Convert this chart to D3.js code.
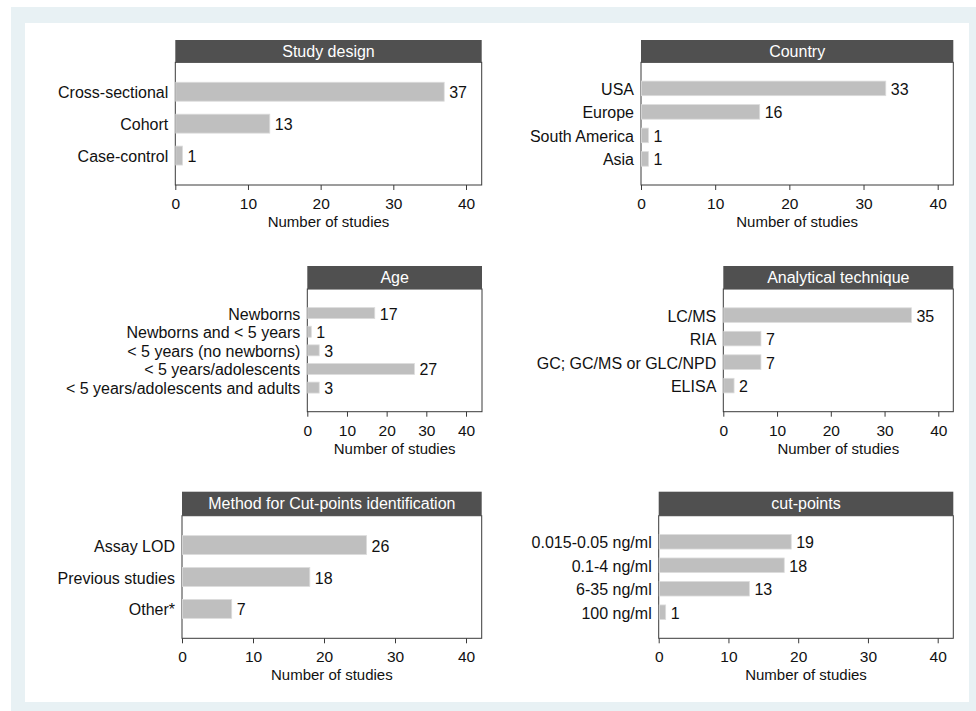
<!DOCTYPE html>
<html>
<head>
<meta charset="utf-8">
<script src="https://cdn.jsdelivr.net/npm/d3@7"></script>
<style>
  html, body { margin: 0; padding: 0; background: #ffffff; }
  svg { display: block; }
  text { font-family: "Liberation Sans", Arial, Helvetica, sans-serif; fill: #111; }
</style>
</head>
<body>
<svg id="chart" width="976" height="711"></svg>
<script>
// ---------------- DATA ----------------
const studyDesignCats = ["Cross-sectional", "Cohort", "Case-control"];
const studyDesignVals = [37, 13, 1];

const countryCats = ["USA", "Europe", "South America", "Asia"];
const countryVals = [33, 16, 1, 1];

const ageCats = ["Newborns", "Newborns and < 5 years", "< 5 years (no newborns)", "< 5 years/adolescents", "< 5 years/adolescents and adults"];
const ageVals = [17, 1, 3, 27, 3];

const techniqueCats = ["LC/MS", "RIA", "GC; GC/MS or GLC/NPD", "ELISA"];
const techniqueVals = [35, 7, 7, 2];

const methodCats = ["Assay LOD", "Previous studies", "Other*"];
const methodVals = [26, 18, 7];

const cutpointCats = ["0.015-0.05 ng/ml", "0.1-4 ng/ml", "6-35 ng/ml", "100 ng/ml"];
const cutpointVals = [19, 18, 13, 1];

const panelTitles = ["Study design", "Country", "Age", "Analytical technique", "Method for Cut-points identification", "cut-points"];
const xTicks = [0, 10, 20, 30, 40];
const xAxisTitle = "Number of studies";

// ---------------- LAYOUT ----------------
const svg = d3.select("#chart");

// outer frame
svg.append("rect").attr("x", 11).attr("y", 7).attr("width", 965).attr("height", 704).attr("fill", "#e8f1f4");
svg.append("rect").attr("x", 25).attr("y", 23).attr("width", 944).attr("height", 679).attr("fill", "#ffffff");

const panels = [
  { title: panelTitles[0], cats: studyDesignCats, vals: studyDesignVals, x0: 175.3, x40: 466, x1: 481.7, hTop: 40, hBot: 62.3, pBot: 185 },
  { title: panelTitles[1], cats: countryCats, vals: countryVals, x0: 641, x40: 937.7, x1: 953.3, hTop: 40, hBot: 62.3, pBot: 185 },
  { title: panelTitles[2], cats: ageCats, vals: ageVals, x0: 307.3, x40: 466, x1: 482, hTop: 266, hBot: 289, pBot: 411.7 },
  { title: panelTitles[3], cats: techniqueCats, vals: techniqueVals, x0: 723.3, x40: 938.3, x1: 953.3, hTop: 266, hBot: 289, pBot: 411.7 },
  { title: panelTitles[4], cats: methodCats, vals: methodVals, x0: 182, x40: 466, x1: 481.7, hTop: 491.7, hBot: 515.7, pBot: 638.3 },
  { title: panelTitles[5], cats: cutpointCats, vals: cutpointVals, x0: 658.7, x40: 937.7, x1: 953.3, hTop: 491.7, hBot: 515.7, pBot: 638.3 }
];

const padByN = { 3: [0.406, 0.625], 4: [0.38, 0.8], 5: [0.41, 1.0] };

panels.forEach(p => {
  const g = svg.append("g");
  const n = p.cats.length;
  const [pi, po] = padByN[n];

  const x = d3.scaleLinear().domain([0, 40]).range([p.x0, p.x40]);
  const y = d3.scaleBand().domain(p.cats).range([p.hBot, p.pBot])
    .paddingInner(pi).paddingOuter(po);

  // plot frame
  g.append("rect")
    .attr("x", p.x0).attr("y", p.hBot)
    .attr("width", p.x1 - p.x0).attr("height", p.pBot - p.hBot)
    .attr("fill", "#ffffff").attr("stroke", "#3a3a3a").attr("stroke-width", 1);

  // header
  g.append("rect")
    .attr("x", p.x0).attr("y", p.hTop)
    .attr("width", p.x1 - p.x0).attr("height", p.hBot - p.hTop)
    .attr("fill", "#505050");
  g.append("text")
    .attr("x", (p.x0 + p.x1) / 2).attr("y", (p.hTop + p.hBot) / 2)
    .attr("text-anchor", "middle").attr("dominant-baseline", "central")
    .style("font-size", "16px").style("fill", "#ffffff")
    .text(p.title);

  // bars
  const data = p.cats.map((c, i) => ({ c, v: p.vals[i] }));
  g.selectAll(".bar").data(data).enter().append("rect")
    .attr("x", x(0) + 0.5)
    .attr("y", d => y(d.c))
    .attr("width", d => x(d.v) - x(0) - 0.5)
    .attr("height", y.bandwidth())
    .attr("fill", "#bfbfbf")
    .attr("stroke", "#dcdcdc").attr("stroke-width", 0.8);

  // value labels
  g.selectAll(".val").data(data).enter().append("text")
    .attr("x", d => x(d.v) + 5)
    .attr("y", d => y(d.c) + y.bandwidth() / 2 + 1)
    .attr("dominant-baseline", "central")
    .style("font-size", "16px")
    .text(d => d.v);

  // category labels
  g.selectAll(".cat").data(data).enter().append("text")
    .attr("x", p.x0 - 7)
    .attr("y", d => y(d.c) + y.bandwidth() / 2 + 1)
    .attr("text-anchor", "end").attr("dominant-baseline", "central")
    .style("font-size", "16px")
    .text(d => d.c);

  // x axis
  const axis = d3.axisBottom(x).tickValues(xTicks).tickSize(5).tickPadding(4).tickSizeOuter(0);
  const ax = g.append("g").attr("transform", `translate(0,${p.pBot})`).call(axis);
  ax.select(".domain").remove();
  ax.selectAll(".tick line").attr("stroke", "#3a3a3a");
  ax.selectAll(".tick text")
    .attr("y", 18.5).attr("dy", null).attr("dominant-baseline", "central")
    .style("font-size", "15.5px").style("font-family", "\"Liberation Sans\", Arial, sans-serif").attr("fill", "#111");

  g.append("text")
    .attr("x", (p.x0 + p.x1) / 2).attr("y", p.pBot + 36.5)
    .attr("text-anchor", "middle").attr("dominant-baseline", "central")
    .style("font-size", "15px")
    .text(xAxisTitle);
});
</script>
</body>
</html>
